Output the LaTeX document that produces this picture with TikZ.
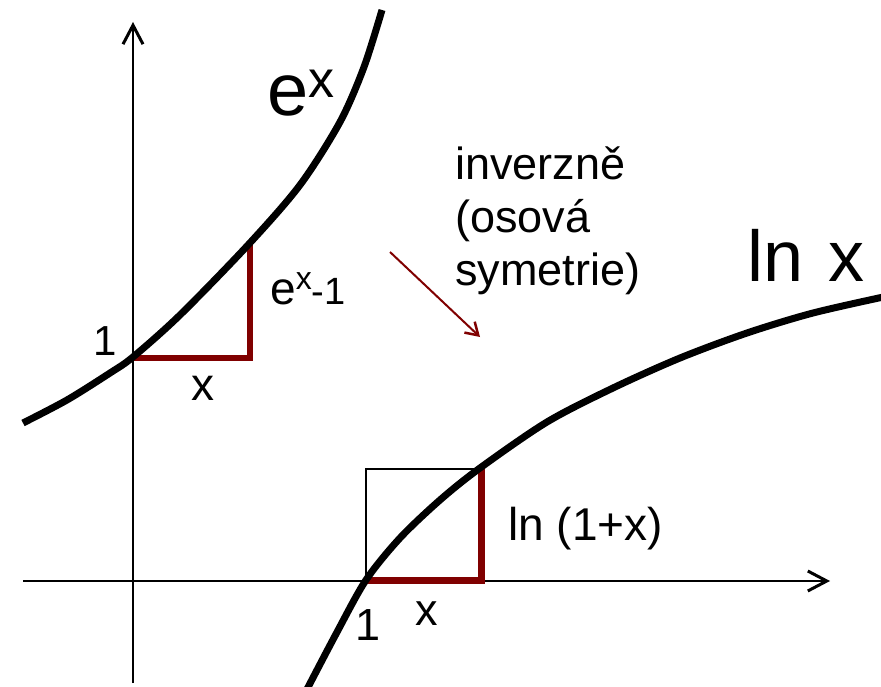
\documentclass[tikz,border=0pt]{standalone}
\usepackage{fontspec}
\setmainfont{Liberation Sans}
\usetikzlibrary{arrows.meta}
\definecolor{myred}{RGB}{128,0,0}
\begin{document}
\begin{tikzpicture}[x=1pt,y=-1pt,
  axis/.style={line width=2.2pt,-{Straight Barb[length=19pt,width=20pt,line width=3pt]}},
  curve/.style={line width=7pt},
  redline/.style={draw=myred,line width=6.5pt},
  thinbox/.style={line width=1.6pt},
  lbl/.style={inner sep=0pt,anchor=base west,font=\fontsize{45}{52}\selectfont},
  invarrow/.style={draw=myred,line width=2pt,-{Straight Barb[length=12pt,width=15pt,line width=2.5pt]}}
  ]
\useasboundingbox (0,0) rectangle (881,687);
% axes
\coordinate (xs) at (23,581);
\coordinate (xe) at (830,581);
\coordinate (ys) at (133,683);
\coordinate (ye) at (133,22);
\draw[axis] (xs) -- (xe);
\draw[axis] (ys) -- (ye);
% thin box
\coordinate (b1) at (366,580);
\coordinate (b2) at (366,469);
\coordinate (b3) at (482,469);
\draw[thinbox] (b1) -- (b2) -- (b3);
% red L shapes
\coordinate (o1) at (133,358);
\coordinate (c1) at (250,358);
\coordinate (t1) at (250,243);
\draw[redline] (o1) -- (c1) -- (t1);
\coordinate (o2) at (366,580.5);
\coordinate (c2) at (481.5,580.5);
\coordinate (t2) at (481.5,468);
\draw[redline] (o2) -- (c2) -- (t2);
% curves
\draw[curve] plot[smooth] coordinates {(23,423) (67,400) (110,373) (133,357) (180,315) (248,245) (300,185) (340,122) (364,67) (382,10)};
\draw[curve] plot[smooth] coordinates {(304,695) (336,634) (366,580) (400,538) (440,500) (480,468) (547,422) (613,388) (680,358) (747,333) (813,313) (888,296)};
% inverse arrow
\coordinate (a1) at (390,252);
\coordinate (a2) at (480,337);
\draw[invarrow] (a1) -- (a2);
% labels
\node[lbl] (ex) at (267,116) {\fontsize{74}{80}\selectfont e\raisebox{18pt}{\fontsize{52}{56}\selectfont x}};
\node[lbl] (exm) at (270,305) {\fontsize{46}{52}\selectfont e\raisebox{15pt}{\fontsize{32}{36}\selectfont x}\fontsize{38}{44}\selectfont -1};
\node[lbl,font=\fontsize{42}{48}\selectfont] (one1) at (93,355) {1};
\node[lbl,font=\fontsize{46}{52}\selectfont] (xl) at (191,400) {x};
\node[lbl] (one2) at (355,640) {1};
\node[lbl] (xr) at (415,625) {x};
\node[lbl,font=\fontsize{46}{52}\selectfont] (lnl) at (508,540) {ln (1+x)};
\node[lbl,font=\fontsize{72}{80}\selectfont] (lnx) at (747,281) {ln\ \kern5pt x};
\node[lbl] (inv1) at (455,180) {inverzně};
\node[lbl] (inv2) at (455,233) {(osová};
\node[lbl] (inv3) at (455,285) {symetrie)};
\end{tikzpicture}
\end{document}
